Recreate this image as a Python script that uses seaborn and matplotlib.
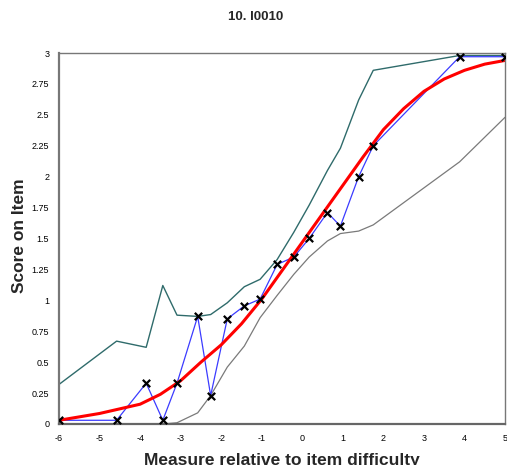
import numpy as np
import pandas as pd
import matplotlib
matplotlib.use("Agg")
import matplotlib.pyplot as plt
import seaborn as sns

# === Data ===
obs_x = [-6.0, -4.58, -3.85, -3.44, -3.09, -2.58, -2.26, -1.85, -1.43, -1.04,
         -0.62, -0.21, 0.17, 0.62, 0.94, 1.39, 1.75, 3.88, 5.0]
obs_score = [0.03, 0.03, 0.33, 0.03, 0.33, 0.87, 0.23, 0.85, 0.955, 1.01,
             1.29, 1.35, 1.50, 1.71, 1.60, 2.00, 2.25, 2.97, 2.97]
upper_ci = [0.32, 0.67, 0.62, 1.12, 0.88, 0.87, 0.885, 0.98, 1.11, 1.17,
            1.33, 1.55, 1.77, 2.05, 2.23, 2.62, 2.86, 2.98, 2.98]
lower_ci = [0.0, 0.0, 0.0, 0.0, 0.01, 0.09, 0.23, 0.46, 0.63, 0.86,
            1.04, 1.21, 1.35, 1.48, 1.54, 1.56, 1.61, 2.12, 2.48]

model_x = [-6.0, -5.0, -4.0, -3.5, -3.0, -2.5, -2.0, -1.5, -1.0, -0.5,
           0.0, 0.5, 1.0, 1.5, 2.0, 2.5, 3.0, 3.5, 4.0, 4.5, 5.0]
model_score = [0.03, 0.085, 0.16, 0.24, 0.35, 0.50, 0.64, 0.81, 1.01, 1.24,
               1.47, 1.70, 1.93, 2.16, 2.38, 2.55, 2.69, 2.79, 2.86, 2.91, 2.94]

x_ticks = [-6, -5, -4, -3, -2, -1, 0, 1, 2, 3, 4, 5]
y_ticks = [0, 0.25, 0.5, 0.75, 1, 1.25, 1.5, 1.75, 2, 2.25, 2.5, 2.75, 3]
y_tick_labels = ["0", "0.25", "0.5", "0.75", "1", "1.25", "1.5", "1.75",
                 "2", "2.25", "2.5", "2.75", "3"]

obs = pd.DataFrame({"x": obs_x, "score": obs_score,
                    "upper": upper_ci, "lower": lower_ci})
model = pd.DataFrame({"x": model_x, "score": model_score})

# === Plot ===
sns.set_style("white")
plt.rcParams["font.family"] = ["Liberation Sans", "DejaVu Sans"]

fig = plt.figure(figsize=(5.07, 4.65), dpi=100)
ax = fig.add_axes([0.1164, 0.0882, 0.8797, 0.7978])

sns.lineplot(data=obs, x="x", y="upper", ax=ax, color="#2f6b6b", lw=1.0, sort=False)
sns.lineplot(data=obs, x="x", y="lower", ax=ax, color="#7a7a7a", lw=0.9, sort=False)
sns.lineplot(data=obs, x="x", y="score", ax=ax, color="#3b3bff", lw=0.9, sort=False)
sns.lineplot(data=model, x="x", y="score", ax=ax, color="#ff0000", lw=2.2, sort=False)
sns.scatterplot(data=obs, x="x", y="score", ax=ax, marker="x", color="black",
                s=28, linewidth=1.6, zorder=5)

ax.set_xlim(-6, 5)
ax.set_ylim(0, 3)
ax.set_xticks(x_ticks)
ax.set_xticklabels([str(t) for t in x_ticks])
ax.set_yticks(y_ticks)
ax.set_yticklabels(y_tick_labels)
ax.tick_params(axis="both", direction="out", length=4, width=1, color="#555555",
               labelsize=6.5, labelcolor="black", pad=3)

for side in ["left", "bottom", "top", "right"]:
    ax.spines[side].set_visible(True)
    ax.spines[side].set_color("#777777")
    ax.spines[side].set_linewidth(1.0)
ax.spines["left"].set_linewidth(1.6)
ax.spines["bottom"].set_linewidth(1.6)
ax.spines["bottom"].set_color("#666666")

ax.set_xlabel("Measure relative to item difficulty", fontsize=12.5,
              fontweight="bold", va="center")
ax.xaxis.set_label_coords(0.5, -0.0997)
ax.set_ylabel("Score on Item", fontsize=12.5, fontweight="bold", va="center")
ax.yaxis.set_label_coords(-0.0886, 0.507)
fig.text(0.505, 1 - 17 / 465, "10. I0010", ha="center",
         va="center", fontsize=9.5, fontweight="bold")

fig.savefig("out.png", dpi=100)
plt.close(fig)
